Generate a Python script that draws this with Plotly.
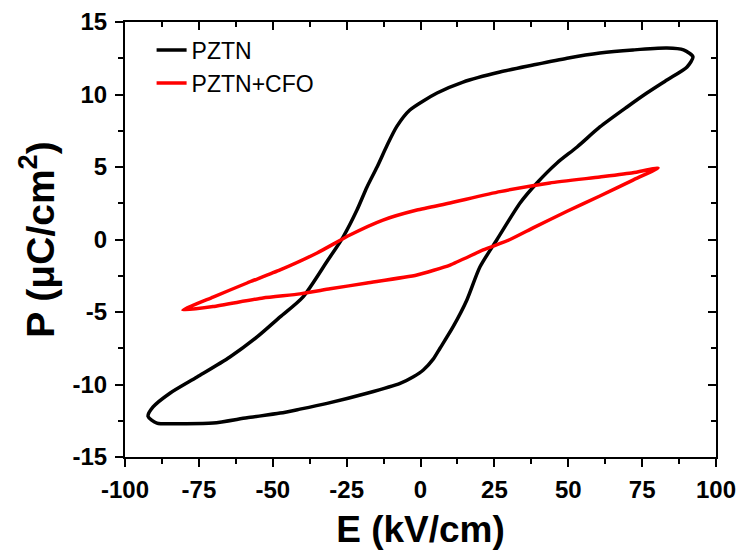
import plotly.graph_objects as go

# PZTN loop (E in kV/cm, P in uC/cm^2), traced in order
pztn_E = [92.2, 89.0, 83.4, 71.9, 60.7, 49.6, 38.1, 26.9, 14.4, 5.6, -3.6, -8.0, -11.3, -14.7,
          -18.1, -21.5, -26.2, -31.6, -39.8, -47.5, -55.3, -64.5, -75.6, -84.8, -90.5, -92.2,
          -89.2, -81.4, -70.2, -58.7, -47.5, -40.8, -31.6, -18.1, -6.9, -2.4, 0.95, 4.3, 6.6, 11.0, 15.7,
          20.1, 25.9, 33.7, 39.4, 46.2, 53.0, 60.7, 69.9, 76.6, 83.4, 90.2, 92.2]
pztn_P = [12.6, 13.07, 13.2, 13.07, 12.86, 12.5, 12.03, 11.55, 10.86, 10.1, 8.93, 7.8, 6.5, 5.0,
          3.62, 2.03, 0.17, -1.5, -3.97, -5.34, -6.72, -8.1, -9.48, -10.6, -11.55, -12.2,
          -12.66, -12.7, -12.66, -12.3, -11.97, -11.7, -11.3, -10.6, -9.92, -9.46, -9.0, -8.25, -7.5, -6.03, -4.17,
          -1.9, 0.0, 2.52, 3.9, 5.28, 6.38, 7.76, 9.14, 10.1, 11.0, 11.9, 12.6]

# PZTN+CFO loop
cfo_E = [80.4, 71.9, 60.7, 43.8, 26.9, 10.0, -1.2, -12.7, -23.9, -35.0, -47.5, -58.7, -70.2, -80.4,
         -70.2, -53.3, -40.8, -30.6, -18.1, -1.2, 10.0, 21.2, 30.3, 38.1, 49.6, 60.7, 71.9, 80.4]
cfo_P = [4.93, 4.6, 4.31, 3.9, 3.3, 2.52, 2.03, 1.34, 0.31, -0.93, -2.1, -3.0, -3.97, -4.86,
         -4.62, -4.03, -3.75, -3.4, -3.0, -2.45, -1.76, -0.72, 0.0, 0.8, 1.95, 3.0, 4.1, 4.93]

x_ticks = [-100, -75, -50, -25, 0, 25, 50, 75, 100]
y_ticks = [-15, -10, -5, 0, 5, 10, 15]

FONT = "Liberation Sans, Arial, sans-serif"

fig = go.Figure()
fig.add_trace(go.Scatter(x=pztn_E, y=pztn_P, mode="lines", name="PZTN",
                         line=dict(color="black", width=3.5, shape="spline", smoothing=0.7)))
fig.add_trace(go.Scatter(x=cfo_E, y=cfo_P, mode="lines", name="PZTN+CFO",
                         line=dict(color="#ff0000", width=3.5, shape="spline", smoothing=0.5)))
# transparent copy on the mirrored (top/right) axes so that they are drawn
fig.add_trace(go.Scatter(x=cfo_E, y=cfo_P, mode="lines", xaxis="x2", yaxis="y2",
                         opacity=0, showlegend=False, hoverinfo="skip",
                         line=dict(color="#ff0000", width=0.1)))

common = dict(showgrid=False, zeroline=False, showline=True, linecolor="black", linewidth=2,
              ticklen=8, tickwidth=1.5, tickcolor="black", automargin=False)

fig.update_layout(
    width=745, height=553,
    margin=dict(l=125, r=29, t=22, b=96),
    paper_bgcolor="white", plot_bgcolor="white",
    font=dict(family=FONT, color="black"),
    xaxis=dict(range=[-100, 100], tickmode="array", tickvals=x_ticks,
               ticktext=[str(v) for v in x_ticks], ticks="outside",
               tickfont=dict(size=24, weight="bold", family=FONT), ticklabelstandoff=2,
               minor=dict(dtick=12.5, tick0=0, ticklen=5, ticks="outside", tickcolor="black", tickwidth=1.5),
               title=dict(text="E (kV/cm)", font=dict(size=37, weight="bold", family=FONT), standoff=14),
               **common),
    yaxis=dict(range=[-15, 15], tickmode="array", tickvals=y_ticks,
               ticktext=[str(v) for v in y_ticks], ticks="outside",
               tickfont=dict(size=24, weight="bold", family=FONT), ticklabelstandoff=3,
               minor=dict(dtick=2.5, tick0=0, ticklen=5, ticks="outside", tickcolor="black", tickwidth=1.5),
               title=dict(text="P (μC/cm<sup>2</sup>)", font=dict(size=39, weight="bold", family=FONT), standoff=6),
               **common),
    xaxis2=dict(range=[-100, 100], overlaying="x", side="top", anchor="y2", tickvals=x_ticks,
                showticklabels=False, ticks="inside",
                minor=dict(dtick=12.5, tick0=0, ticklen=5, ticks="inside", tickcolor="black", tickwidth=1.5),
                **common),
    yaxis2=dict(range=[-15, 15], overlaying="y", side="right", anchor="x2", tickvals=y_ticks,
                showticklabels=False, ticks="inside",
                minor=dict(dtick=2.5, tick0=0, ticklen=5, ticks="inside", tickcolor="black", tickwidth=1.5),
                **common),
    legend=dict(x=0.045, y=0.985, xanchor="left", yanchor="top", bgcolor="rgba(0,0,0,0)",
                font=dict(size=23, family=FONT), tracegroupgap=0),
    showlegend=True,
)
fig.write_html("out.html", config={"displayModeBar": False},
               post_script="document.body.style.margin='0';")
